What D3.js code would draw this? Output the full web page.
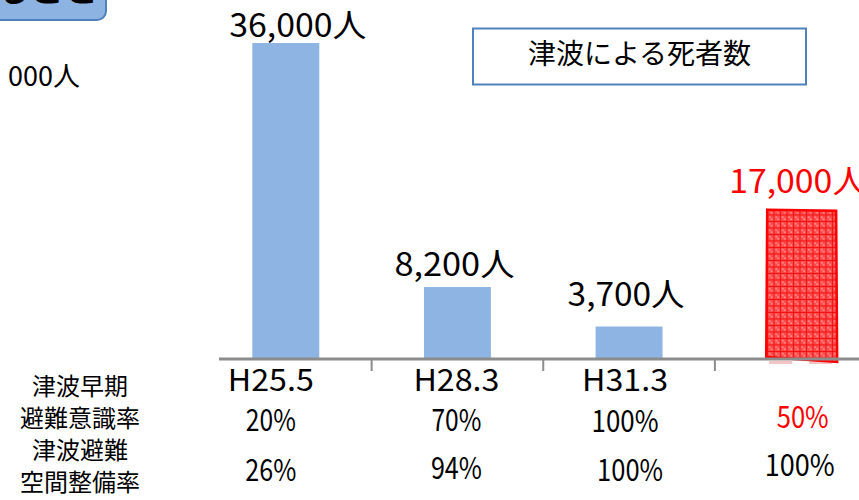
<html>
<head>
<meta charset="utf-8">
<style>
  body { margin: 0; background: #fff; }
  text { font-family: "Noto Sans CJK JP", "Noto Sans", sans-serif; }
</style>
</head>
<body>
<svg width="859" height="500"></svg>

<script src="https://d3js.org/d3.v7.min.js"></script>
<script>

// data
var categories = ["H25.5", "H28.3", "H31.3", "目標"];
var deaths = [36000, 8200, 3700, 17000];
var awareness = ["20%", "70%", "100%", "50%"];
var shelter = ["26%", "94%", "100%", "100%"];
var rowTitles = ["津波早期", "避難意識率", "津波避難", "空間整備率"];
var legendTitle = "津波による死者数";

var svg = d3.select("svg");

var x = d3.scaleBand()
    .domain(categories)
    .range([200, 886.5])
    .paddingInner(0.61)
    .paddingOuter(0.305);

var y = d3.scaleLinear()
    .domain([0, 36000])
    .range([359, 43]);

var fmt = d3.format(",");
var bw = x.bandwidth();

// hatch for the target bar
var defs = svg.append("defs");
var pat = defs.append("pattern")
    .attr("id", "grid")
    .attr("patternUnits", "userSpaceOnUse")
    .attr("width", 6.5).attr("height", 6.5);
pat.append("rect").attr("width", 6.5).attr("height", 6.5).attr("fill", "#ff4a4a");
pat.append("rect").attr("x", 2).attr("y", 2).attr("width", 1.5).attr("height", 1.5).attr("fill", "#ff9d9d");
pat.append("rect").attr("x", 4).attr("y", 4).attr("width", 1.5).attr("height", 1.5).attr("fill", "#ff9d9d");
pat.append("path").attr("d", "M0,0H6.5M0,0V6.5").attr("stroke", "#f00000").attr("stroke-width", 1.3);

// blue tab at top left (mostly off the page)
svg.append("rect")
    .attr("x", -30).attr("y", -30)
    .attr("width", 136).attr("height", 50)
    .attr("rx", 9)
    .attr("fill", "#8db3e2")
    .attr("stroke", "#4f81bd")
    .attr("stroke-width", 2);
svg.append("text")
    .attr("x", -4).attr("y", 1.5)
    .attr("font-size", 34).attr("font-weight", "bold")
    .text("ること");

svg.append("text")
    .attr("x", 8).attr("y", 86)
    .attr("font-size", 27)
    .attr("textLength", 72).attr("lengthAdjust", "spacingAndGlyphs")
    .text("000人");

// legend box
svg.append("rect")
    .attr("x", 473).attr("y", 28.5)
    .attr("width", 333).attr("height", 56)
    .attr("fill", "#fff")
    .attr("stroke", "#4f81bd")
    .attr("stroke-width", 2);
svg.append("text")
    .attr("x", 639.5).attr("y", 64)
    .attr("text-anchor", "middle")
    .attr("font-size", 28)
    .text(legendTitle);

// ghost marks under the target bar
var last = categories[3];
svg.selectAll(".ghost")
    .data([0, 1])
    .join("rect")
    .attr("x", function(d) { return x(last) + 2 + d * 40; })
    .attr("y", y(0) + 2)
    .attr("width", 23).attr("height", 3)
    .attr("fill", "#f3c4c4");

// bars
svg.selectAll(".bar")
    .data(deaths.slice(0, 3))
    .join("rect")
    .attr("class", "bar")
    .attr("x", function(d, i) { return x(categories[i]); })
    .attr("y", function(d) { return y(d); })
    .attr("width", bw)
    .attr("height", function(d) { return y(0) - y(d); })
    .attr("fill", "#8eb4e3");

// target bar, slightly skewed like the hand-drawn shape
var x0 = x(last), x1 = x(last) + bw, yt = y(deaths[3]), yb = y(0);
svg.append("path")
    .attr("d", "M" + x0 + "," + yt + "L" + (x1 + 2) + "," + (yt + 1) +
               "L" + (x1 + 3) + "," + (yb + 3) + "L" + (x0 - 1) + "," + (yb - 2) + "Z")
    .attr("fill", "url(#grid)")
    .attr("stroke", "#ff0000")
    .attr("stroke-width", 2.5);

// axis line with ticks between categories
svg.append("line")
    .attr("x1", 219).attr("x2", 859)
    .attr("y1", y(0)).attr("y2", y(0))
    .attr("stroke", "#8c8c8c").attr("stroke-width", 3);
svg.selectAll(".tick")
    .data([1, 2, 3])
    .join("line")
    .attr("x1", function(k) { return x.range()[0] + k * x.step(); })
    .attr("x2", function(k) { return x.range()[0] + k * x.step(); })
    .attr("y1", y(0)).attr("y2", y(0) + 12)
    .attr("stroke", "#8c8c8c").attr("stroke-width", 2);

// value labels
var labelGap = [6, 11, 21, 17];
var labelLen = [137, 120, 117, 137];
svg.selectAll(".val")
    .data(deaths)
    .join("text")
    .attr("x", function(d, i) { return x(categories[i]) + bw / 2 + (i === 0 ? 12 : -3); })
    .attr("y", function(d, i) { return y(d) - labelGap[i]; })
    .attr("text-anchor", "middle")
    .attr("font-size", 32)
    .attr("textLength", function(d, i) { return labelLen[i]; })
    .attr("lengthAdjust", "spacingAndGlyphs")
    .attr("fill", function(d, i) { return i === 3 ? "#ff0000" : "#000"; })
    .text(function(d) { return fmt(d) + "人"; });

// category + rate rows
var colShift = [-15, -1, -4, -1];
function cx(i) { return x(categories[i]) + bw / 2 + colShift[i]; }

svg.selectAll(".cat")
    .data(categories.slice(0, 3))
    .join("text")
    .attr("x", function(d, i) { return cx(i); })
    .attr("y", 391)
    .attr("text-anchor", "middle")
    .attr("font-size", 30)
    .attr("textLength", 86)
    .attr("lengthAdjust", "spacingAndGlyphs")
    .text(function(d) { return d; });

var len1 = [50, 50, 67, 52], len2 = [51, 51, 66, 70];
var base1 = [431, 431, 432, 428], base2 = [481, 479, 481, 476];

svg.selectAll(".aw")
    .data(awareness)
    .join("text")
    .attr("x", function(d, i) { return cx(i) + (i === 3 ? 3 : 0); })
    .attr("y", function(d, i) { return base1[i]; })
    .attr("text-anchor", "middle")
    .attr("font-size", 30)
    .attr("textLength", function(d, i) { return len1[i]; })
    .attr("lengthAdjust", "spacingAndGlyphs")
    .attr("fill", function(d, i) { return i === 3 ? "#ff0000" : "#000"; })
    .text(function(d) { return d; });

svg.selectAll(".sh")
    .data(shelter)
    .join("text")
    .attr("x", function(d, i) { return cx(i) + (i === 2 ? 5 : 0); })
    .attr("y", function(d, i) { return base2[i]; })
    .attr("text-anchor", "middle")
    .attr("font-size", 30)
    .attr("textLength", function(d, i) { return len2[i]; })
    .attr("lengthAdjust", "spacingAndGlyphs")
    .text(function(d) { return d; });

// row titles on the left
var titleBase = [395, 427, 459, 491];
svg.selectAll(".rt")
    .data(rowTitles)
    .join("text")
    .attr("x", 80)
    .attr("y", function(d, i) { return titleBase[i]; })
    .attr("text-anchor", "middle")
    .attr("font-size", 24)
    .text(function(d) { return d; });

</script>
</body>
</html>
